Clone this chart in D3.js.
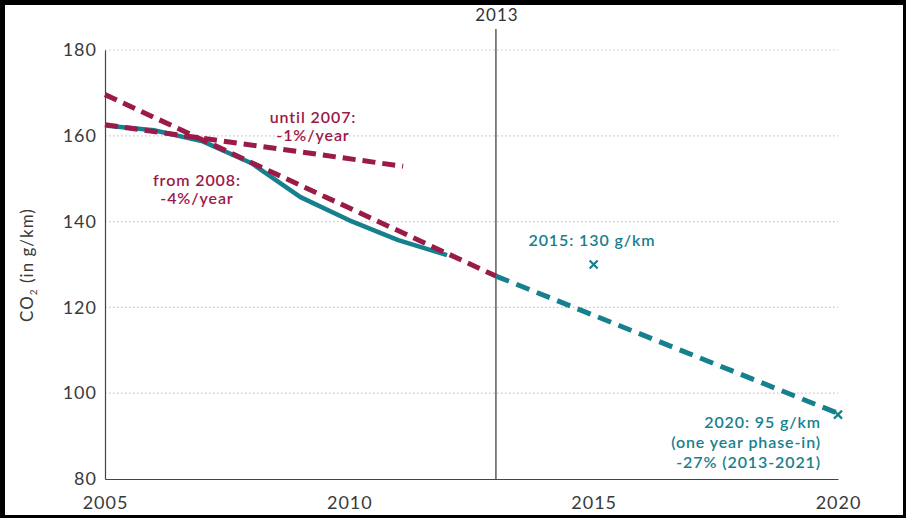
<!DOCTYPE html>
<html>
<head>
<meta charset="utf-8">
<script src="https://cdn.jsdelivr.net/npm/d3@7"></script>
<style>
  html, body { margin: 0; padding: 0; background: #000; }
  svg { display: block; }
  text { font-family: "Lato", "Open Sans", sans-serif; }
</style>
</head>
<body>
<script>
// ---- data ----
const actualYears  = [2005, 2006, 2007, 2008, 2009, 2010, 2011, 2012];
const actualValues = [162.4, 161.3, 158.7, 153.6, 145.7, 140.3, 135.7, 132.2];
const targetYears  = [2013, 2020];
const targetValues = [127.3, 95.3];
const trendUntil2007Years  = [2005, 2011.1];
const trendUntil2007Values = [162.6, 152.9];
const trendFrom2008Years   = [2005, 2013];
const trendFrom2008Values  = [169.6, 127.3];
const markerYears  = [2015, 2020];
const markerValues = [130, 95];
const xTicks = [2005, 2010, 2015, 2020];
const yTicks = [80, 100, 120, 140, 160, 180];
const refYear = 2013;

const W = 906, H = 518;
const teal = "#17808e", red = "#9a1a48";
const svg = d3.select("body").append("svg").attr("width", W).attr("height", H);
svg.append("rect").attr("x", 5).attr("y", 5).attr("width", 898).attr("height", 510).attr("fill", "#fff");

const x = d3.scaleLinear().domain([2005, 2020]).range([105, 838]);
const y = d3.scaleLinear().domain([80, 180]).range([479, 50]);

// grid
svg.append("g").selectAll("line").data(yTicks.filter(d => d > 80)).join("line")
  .attr("x1", x(2005)).attr("x2", x(2020))
  .attr("y1", d => y(d)).attr("y2", d => y(d))
  .attr("stroke", "#c8c8c8").attr("stroke-width", 1.2).attr("stroke-dasharray", "1.5,2.5");

// axes
const yAxis = svg.append("g").attr("transform", `translate(${x(2005)},0)`)
  .call(d3.axisLeft(y).tickValues(yTicks).tickSize(0).tickPadding(8));
const xAxis = svg.append("g").attr("transform", `translate(0,${y(80)})`)
  .call(d3.axisBottom(x).tickValues(xTicks).tickFormat(d3.format("d")).tickSize(0).tickPadding(17));
[yAxis, xAxis].forEach(g => {
  g.select(".domain").attr("stroke", "#444").attr("stroke-width", 1.2);
  g.selectAll("text").attr("font-size", 18).attr("fill", "#3a3a3a").attr("font-weight", 400)
    .attr("letter-spacing", 1);
});

// 2013 ref line
svg.append("line").attr("x1", x(refYear)).attr("x2", x(refYear)).attr("y1", 29).attr("y2", y(80))
  .attr("stroke", "#333").attr("stroke-width", 1.2);
svg.append("text").attr("x", x(refYear) + 1).attr("y", 21).attr("text-anchor", "middle")
  .attr("font-size", 17).attr("fill", "#333").attr("letter-spacing", 1).text(refYear);

// y label
const yl = svg.append("text").attr("transform", `translate(33,265) rotate(-90)`)
  .attr("text-anchor", "middle").attr("font-size", 17).attr("fill", "#3a3a3a").attr("letter-spacing", 1);
yl.append("tspan").text("CO");
yl.append("tspan").attr("font-size", 10).attr("dy", 4).text("2");
yl.append("tspan").attr("dy", -4).text(" (in g/km)");

const line = d3.line().x(d => x(d[0])).y(d => y(d[1]));
const zip = (a, b) => a.map((v, i) => [v, b[i]]);

// actual
svg.append("path").datum(zip(actualYears, actualValues)).attr("d", line)
  .attr("fill", "none").attr("stroke", teal).attr("stroke-width", 4.5).attr("stroke-linejoin", "round");
// target dashed
svg.append("path").datum(zip(targetYears, targetValues)).attr("d", line)
  .attr("fill", "none").attr("stroke", teal).attr("stroke-width", 5).attr("stroke-dasharray", "14,8");
// trends
svg.append("path").datum(zip(trendUntil2007Years, trendUntil2007Values)).attr("d", line)
  .attr("fill", "none").attr("stroke", red).attr("stroke-width", 5).attr("stroke-dasharray", "13,7");
svg.append("path").datum(zip(trendFrom2008Years, trendFrom2008Values)).attr("d", line)
  .attr("fill", "none").attr("stroke", red).attr("stroke-width", 5).attr("stroke-dasharray", "13,7");

// markers
svg.append("g").selectAll("path").data(zip(markerYears, markerValues)).join("path")
  .attr("transform", d => `translate(${x(d[0])},${y(d[1])})`)
  .attr("d", "M-4,-4L4,4M-4,4L4,-4")
  .attr("stroke", teal).attr("stroke-width", 2.2);

// annotations
function label(xp, yp, lines, color, anchor, lh) {
  const t = svg.append("text").attr("x", xp).attr("y", yp).attr("text-anchor", anchor)
    .attr("font-size", 16).attr("font-weight", 600).attr("fill", color).attr("letter-spacing", 0.9);
  lines.forEach((s, i) => t.append("tspan").attr("x", xp).attr("dy", i ? lh : 0).text(s));
}
label(313, 123, ["until 2007:", "-1%/year"], red, "middle", 18);
label(197, 186, ["from 2008:", "-4%/year"], red, "middle", 18);
label(592, 246, ["2015: 130 g/km"], teal, "middle", 18);
label(821, 428, ["2020: 95 g/km", "(one year phase-in)", "-27% (2013-2021)"], teal, "end", 20);
</script>
</body>
</html>
